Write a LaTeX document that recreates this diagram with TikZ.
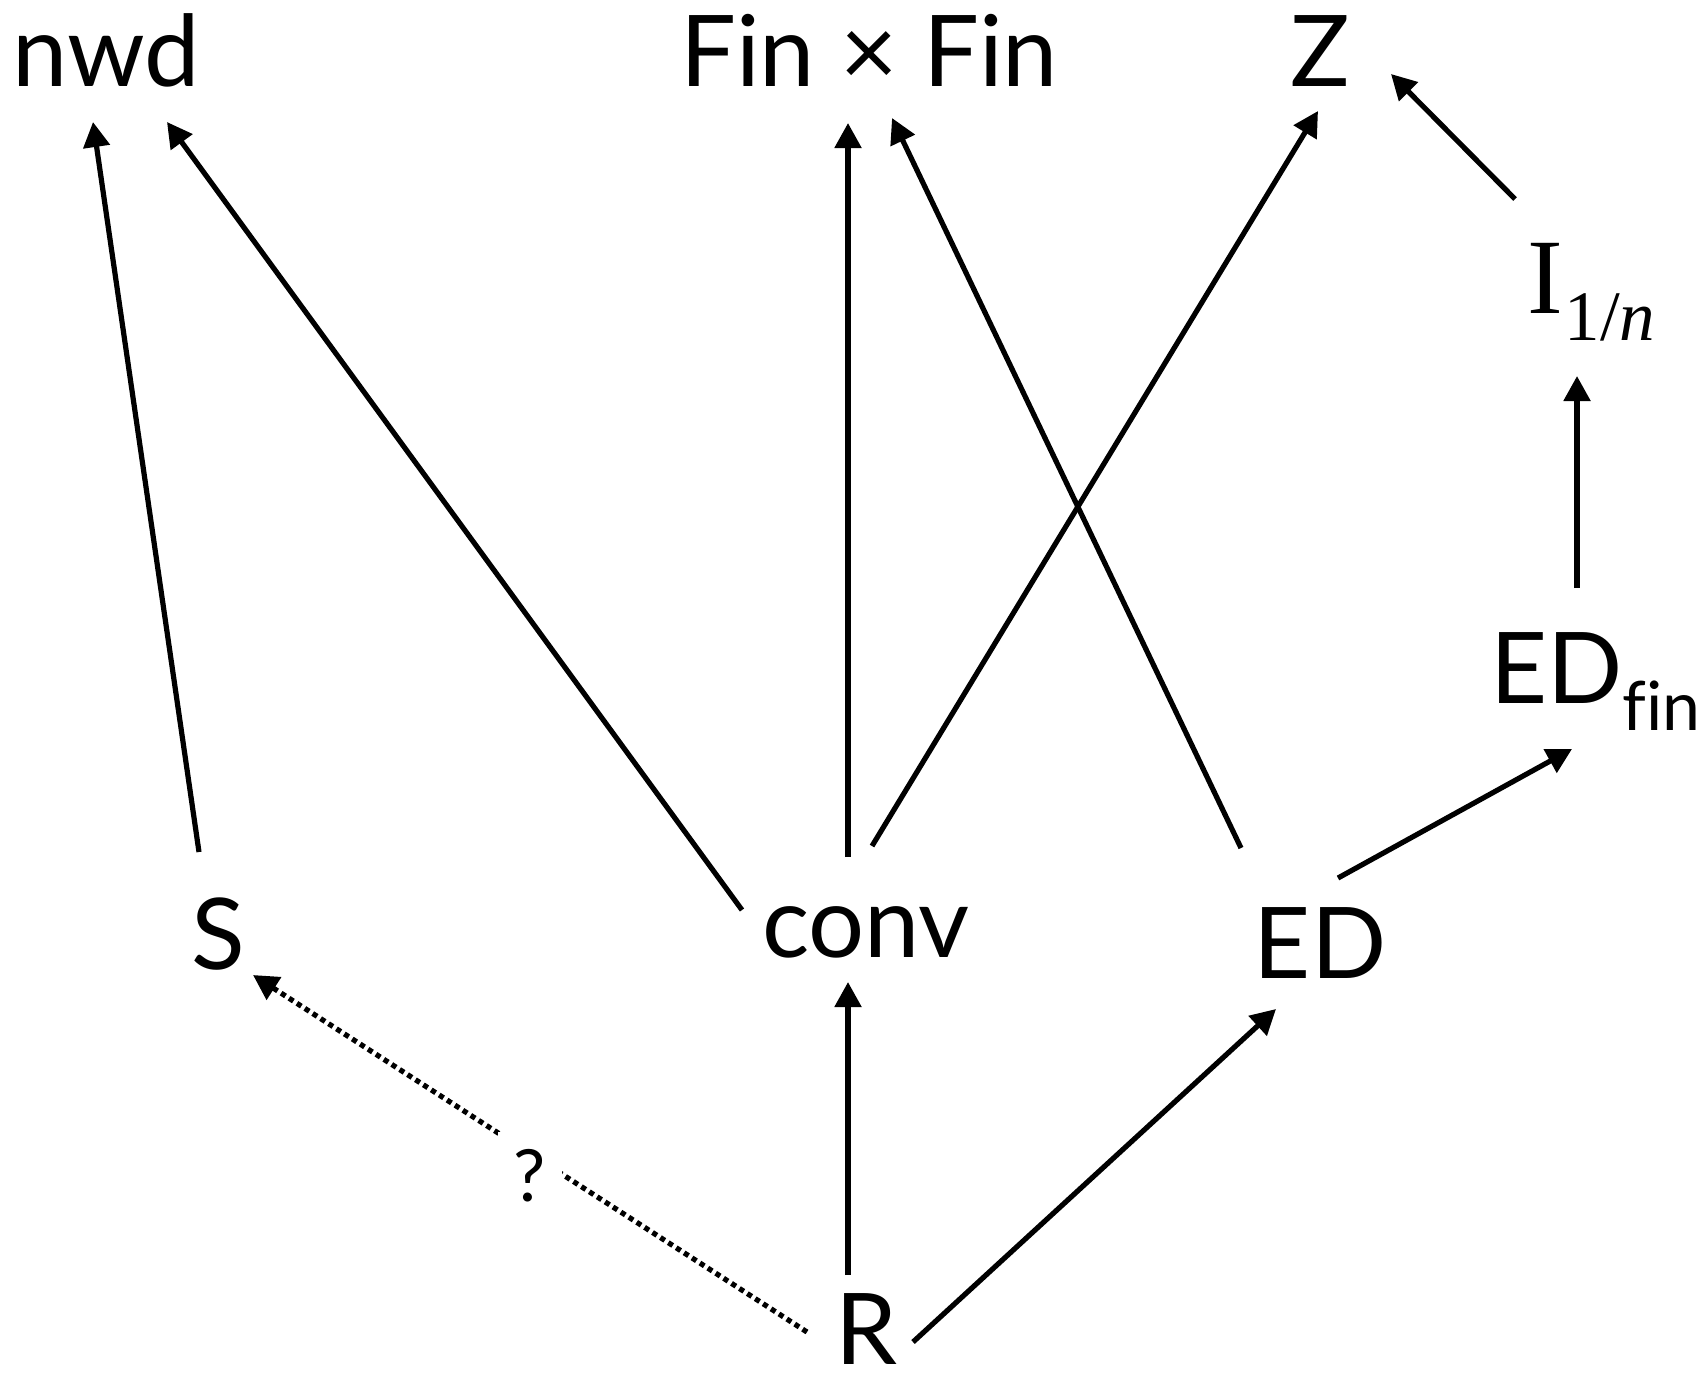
\documentclass[tikz,border=0pt]{standalone}
\usepackage{fontspec}
\setmainfont{Lato}
\newfontfamily\seriffont{Liberation Serif}
\usetikzlibrary{arrows.meta,calc}
\begin{document}
\begin{tikzpicture}[x=0.5pt,y=-0.5pt,
  lbl/.style={inner sep=0pt,outer sep=0pt,anchor=base,font=\fontsize{49.5}{50}\selectfont},
  arr/.style={line width=2.6pt,-{Triangle[length=12.5pt,width=13pt]}},
  dotarr/.style={arr,dash pattern=on 2.6pt off 2.1pt},
  qlbl/.style={fill=white,inner sep=0pt,minimum width=32pt,minimum height=44pt,font=\fontsize{36}{36}\selectfont}]
\useasboundingbox (0,0) rectangle (1706,1372);
% nodes
\node[lbl] (nwd) at (106,86) {nwd};
\node[lbl] (fin) at (869,86) {Fin × Fin};
\node[lbl] (Z) at (1320,86) {Z};
\node[lbl,anchor=base west] (I) at (1527,313) {\seriffont\fontsize{53.6}{54}\selectfont I\kern1pt\raisebox{-13.5pt}{\fontsize{35.5}{36}\selectfont 1/\textit{n}}};
\node[lbl,anchor=base west] (EDf) at (1490,703) {ED\raisebox{-13.5pt}{\fontsize{34}{34}\selectfont f\kern0pt in}};
\node[lbl] (S) at (218,969) {S};
\node[lbl] (conv) at (866,957) {conv};
\node[lbl] (ED) at (1320,978) {ED};
\node[lbl] (R) at (866,1364) {R};
% connectors
\draw[arr] ($(S.base)+(-19,-117)$) -- ($(nwd.base)+(-13,36)$);
\draw[arr] ($(conv.base)+(-124,-47)$) -- ($(nwd.base)+(61,36)$);
\draw[arr] ($(conv.base)+(-18,-100)$) -- ($(fin.base)+(-21,37)$);
\draw[arr] ($(conv.base)+(6,-111)$) -- ($(Z.base)+(-2,25)$);
\draw[arr] ($(ED.base)+(-79,-130)$) -- ($(fin.base)+(23,32)$);
\draw[arr] ($(ED.base)+(18,-100)$) -- ($(EDf.base west)+(82,46)$);
\draw[arr] ($(EDf.base west)+(87,-115)$) -- ($(I.base west)+(50,63)$);
\draw[arr] ($(I.base west)+(-12,-114)$) -- ($(Z.base)+(71,-12)$);
\draw[arr] ($(R.base)+(-18,-89)$) -- ($(conv.base)+(-18,25)$);
\draw[arr] ($(R.base)+(47,-22)$) -- ($(ED.base)+(-44,31)$);
\draw[dotarr] ($(R.base)+(-59,-32)$) -- ($(S.base)+(35,6)$);
\node[qlbl] (q) at (530,1176) {?};
\end{tikzpicture}
\end{document}
